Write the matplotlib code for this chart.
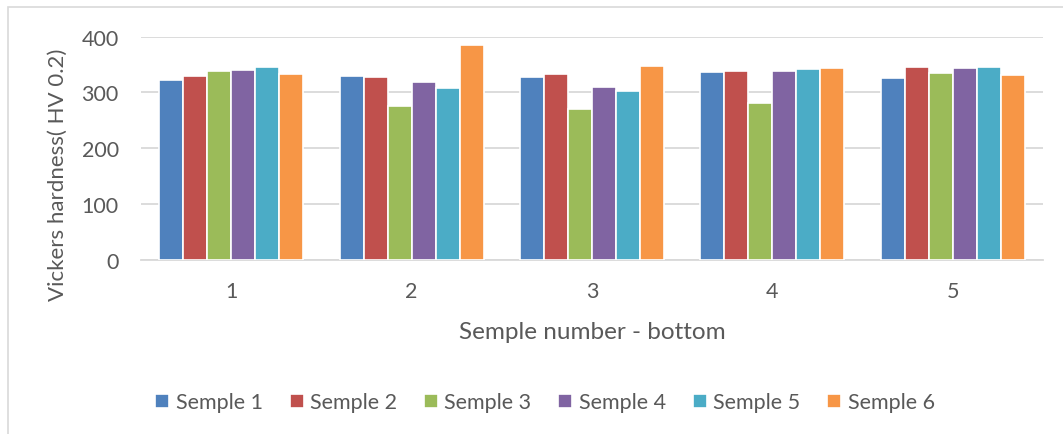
import matplotlib
matplotlib.use("Agg")
import matplotlib.pyplot as plt
from matplotlib.patches import Rectangle
import numpy as np

plt.rcParams["font.family"] = ["Lato", "DejaVu Sans"]

groups = ["1", "2", "3", "4", "5"]
series = ["Semple 1", "Semple 2", "Semple 3", "Semple 4", "Semple 5", "Semple 6"]
semple1 = [322, 329, 328, 336, 326]
semple2 = [330, 327, 333, 338, 345]
semple3 = [338, 276, 270, 281, 335]
semple4 = [340, 318, 310, 338, 344]
semple5 = [346, 308, 303, 341, 345]
semple6 = [333, 385, 347, 343, 331]
values = [semple1, semple2, semple3, semple4, semple5, semple6]
colors = ["#4f81bd", "#c0504d", "#9bbb59", "#8064a2", "#4bacc6", "#f79646"]

W, H = 1063, 435
TXT = "#595959"
fig = plt.figure(figsize=(W / 100, H / 100), dpi=100)
ax = fig.add_axes([141 / W, 1 - 261 / H, 902 / W, 223.5 / H])

x = np.arange(len(groups))
slot = 0.133
for i, (name, vals, c) in enumerate(zip(series, values, colors)):
    ax.bar(x + (i - 2.5) * slot, vals, width=slot, color=c, edgecolor="white",
           linewidth=1.2, label=name, zorder=3)

ax.set_xlim(-0.5, 4.5)
ax.set_ylim(0, 400)
ax.set_yticks([0, 100, 200, 300, 400])
ax.set_xticks(x)
ax.set_xticklabels(groups)
ax.yaxis.grid(True, color="#d9d9d9", linewidth=1.3, zorder=0)
for s in ["top", "right", "left"]:
    ax.spines[s].set_visible(False)
ax.spines["bottom"].set_color("#d9d9d9")
ax.spines["bottom"].set_linewidth(1.3)
ax.tick_params(axis="both", length=0, labelsize=15.5, labelcolor=TXT)
ax.tick_params(axis="y", pad=16)
ax.tick_params(axis="x", pad=15)

# axis titles placed like the original
fig.text(592 / W, 1 - 333 / H, "Semple number - bottom", fontsize=17.5,
         color=TXT, ha="center", va="center")
fig.text(58 / W, 1 - 175 / H, "Vickers hardness( HV 0.2)", fontsize=16,
         color=TXT, ha="center", va="center", rotation=90)

ax.legend(loc="center", bbox_to_anchor=(545 / W, 1 - 403.5 / H),
          bbox_transform=fig.transFigure, ncol=6, frameon=False, fontsize=15.5,
          handlelength=0.65, handleheight=0.65, handletextpad=0.3,
          columnspacing=1.25, labelcolor=TXT, borderpad=0)

fig.patches.append(Rectangle((8 / W, -0.1), 1.2, 1 - 8 / H + 0.1,
                             transform=fig.transFigure, fill=False,
                             edgecolor="#d9d9d9", linewidth=1.2))

fig.savefig("out.png", dpi=100)
